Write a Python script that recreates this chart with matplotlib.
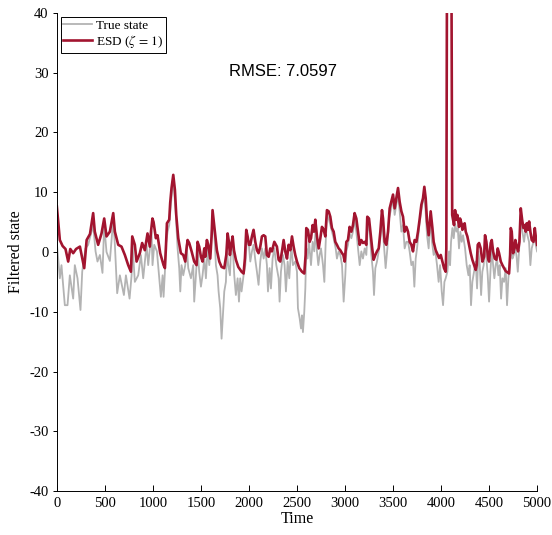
import matplotlib
matplotlib.use("Agg")
import matplotlib.pyplot as plt

plt.rcParams['font.family'] = ['Liberation Serif', 'DejaVu Serif']
plt.rcParams['mathtext.fontset'] = 'stix'

# True state (time, value)
true_t = [0, 31, 48, 83, 111, 135, 170, 187, 215, 246, 264, 298, 326, 361, 378, 403, 423, 448,
          475, 493, 517, 552, 587, 604, 628, 656, 698, 719, 757, 778, 788, 812, 847, 875, 899,
          934, 951, 986, 996, 1014, 1042, 1066, 1083, 1101, 1111, 1125, 1135, 1153, 1170, 1187,
          1208, 1222, 1239, 1257, 1274, 1285, 1298, 1316, 1337, 1351, 1368, 1396, 1420, 1430,
          1448, 1465, 1482, 1500, 1517, 1535, 1552, 1569, 1587, 1604, 1621, 1639, 1656, 1673,
          1684, 1701, 1715, 1729, 1743, 1760, 1771, 1785, 1802, 1812, 1830, 1847, 1864, 1882,
          1896, 1909, 1923, 1944, 1962, 1979, 1996, 2014, 2031, 2048, 2066, 2083, 2100, 2118,
          2135, 2153, 2170, 2187, 2198, 2215, 2229, 2246, 2264, 2285, 2309, 2319, 2333, 2354,
          2371, 2385, 2403, 2420, 2441, 2458, 2482, 2500, 2510, 2528, 2542, 2552, 2562, 2576,
          2587, 2597, 2611, 2625, 2646, 2663, 2680, 2694, 2708, 2722, 2736, 2750, 2771, 2785,
          2798, 2812, 2830, 2847, 2864, 2882, 2903, 2916, 2934, 2951, 2969, 2986, 3003, 3014,
          3031, 3048, 3066, 3083, 3100, 3118, 3135, 3153, 3170, 3187, 3205, 3222, 3239, 3257,
          3274, 3291, 3302, 3316, 3333, 3351, 3368, 3385, 3403, 3423, 3441, 3458, 3482, 3500,
          3517, 3535, 3552, 3569, 3587, 3604, 3621, 3639, 3656, 3673, 3691, 3708, 3722, 3736,
          3750, 3771, 3788, 3805, 3823, 3837, 3854, 3871, 3889, 3906, 3923, 3941, 3958, 3975,
          3990, 4007, 4021, 4035, 4048, 4066, 4083, 4094, 4104, 4118, 4132, 4146, 4160, 4174,
          4187, 4201, 4215, 4229, 4250, 4267, 4285, 4298, 4312, 4326, 4344, 4361, 4375, 4389,
          4403, 4417, 4430, 4444, 4458, 4472, 4486, 4500, 4514, 4528, 4542, 4555, 4569, 4583,
          4597, 4611, 4625, 4639, 4656, 4673, 4687, 4701, 4715, 4729, 4743, 4757, 4771, 4785,
          4799, 4812, 4830, 4847, 4864, 4882, 4899, 4916, 4930, 4944, 4962, 4976, 4986, 5000]
true_v = [1.5, -4.4, -2.2, -8.9, -8.9, -3.9, -7.8, -2.2, -4.4, -9.7, -3.3, 0.6, 1.2, 3.4, 4.5, 0.1, -1.6, -0.5,
          -3.5, 4.5, 0.0, -1.5, 5.5, 1.2, -6.9, -3.9, -7.2, -3.9, -7.8, -3.9, 1.2, -5.0, -3.9, -0.5, -4.4,
          1.2, -2.2, 3.4, -2.2, 1.2, 0.1, -4.4, -7.5, -3.9, -7.5, -3.3, 1.2, 3.4, 4.5, 7.9,
          11.8, 10.1, 6.2, 0.6, -2.7, -6.6, -2.2, -3.9, -2.2, 1.2, -2.7, -4.4, -2.2, -8.3,
          -3.9, 0.6, -3.3, -5.8, -3.9, -1.1, -4.4, 0.6, -2.2, 1.7, 5.1, 3.4, -2.2, -3.9,
          -6.6, -9.4, -14.5, -10.6, -6.6, -5.0, 0.1, -2.2, -3.9, 0.1, 1.2, -3.9, -7.2, -4.4,
          -8.3, -4.4, -6.6, -3.9, -2.2, 2.3, 1.7, -1.6, 0.1, 1.2, -1.3, -3.3, -5.5, -1.6,
          0.6, -1.1, 0.6, -2.2, -6.6, -2.7, -6.1, -1.1, 0.6, -2.2, -4.4, -8.3, -3.3, -0.5,
          -2.2, -6.6, -1.6, -4.4, 1.2, -2.2, -1.6, -3.3, -9.4, -11.1, -12.8, -10.6, -13.4, -10.0,
          -6.1, 0.6, -1.1, 1.7, -2.2, 1.7, 0.1, 4.0, 0.1, -2.2, -0.5, 0.6, -2.2, -5.0,
          1.2, 6.2, 5.6, 4.5, 3.4, 2.3, 0.6, -1.1, 0.1, -0.5, -2.2, -8.3, -3.9, 0.1,
          1.2, 3.1, 2.3, 3.4, 5.4, 3.4, 0.6, -2.2, 0.1, -1.1, 0.6, -0.5, 4.8, 3.4,
          -0.5, -3.3, -7.2, -2.7, -1.6, 0.1, 2.3, 5.6, 1.7, -2.7, 0.6, 5.6, 7.3, 9.0,
          6.2, 7.9, 9.6, 6.8, 3.4, 4.5, 0.6, 1.7, 1.7, 0.1, -2.2, -1.6, -5.8, -1.1,
          0.6, 4.0, 6.2, 7.9, 9.8, 7.3, 2.8, 0.6, 5.6, 1.7, -0.5, 0.1, -2.2, -5.0,
          -2.2, -6.6, -8.9, -5.0, -4.4, -3.3, 0.1, -2.2, 1.7, 4.0, 2.3, 4.8, 3.4, 4.0,
          0.6, 3.4, 1.7, 2.8, 0.6, -2.2, -3.9, -2.2, -8.9, -5.0, -3.3, -1.6, -6.1, 0.1,
          -2.2, -7.2, -3.3, -2.2, 1.7, -1.1, -3.9, -8.3, -3.3, 0.6, -2.2, -4.4, -2.2, -1.1,
          -3.9, -2.2, -7.8, -4.4, -5.0, -2.7, -8.9, -4.4, -2.2, 1.7, -1.1, -0.5, 0.6, -0.5,
          -3.3, 0.1, 6.2, 3.4, 1.7, 4.0, 2.8, 1.7, -2.2, 0.6, 1.7, 2.3, 1.2, 0.1]

# ESD filter estimate (time, value)
esd_t = [0, 31, 60, 90, 118, 140, 170, 200, 240, 285, 310, 345, 378, 395, 430, 465, 493, 517,
         552, 587, 604, 639, 673, 708, 743, 771, 785, 812, 830, 864, 888, 916, 944, 968, 980,
         995, 1007, 1031, 1048, 1076, 1111, 1125, 1135, 1146, 1170, 1180, 1194, 1212, 1229,
         1243, 1264, 1291, 1316, 1337, 1347, 1361, 1378, 1403, 1430, 1455, 1465, 1482, 1500,
         1517, 1535, 1545, 1562, 1576, 1597, 1611, 1621, 1632, 1649, 1666, 1691, 1715, 1743,
         1764, 1778, 1791, 1802, 1816, 1830, 1844, 1864, 1889, 1923, 1944, 1958, 1972, 1986,
         2000, 2014, 2031, 2048, 2066, 2083, 2100, 2118, 2135, 2153, 2170, 2187, 2205, 2222,
         2239, 2264, 2291, 2309, 2326, 2344, 2361, 2378, 2396, 2413, 2430, 2448, 2465, 2482,
         2500, 2524, 2552, 2576, 2590, 2597, 2614, 2632, 2646, 2663, 2677, 2691, 2708, 2726,
         2743, 2760, 2778, 2795, 2812, 2830, 2847, 2864, 2882, 2899, 2916, 2934, 2951, 2969,
         2983, 2997, 3014, 3031, 3048, 3066, 3083, 3100, 3118, 3135, 3153, 3170, 3187, 3205,
         3222, 3232, 3250, 3264, 3281, 3298, 3316, 3333, 3351, 3368, 3385, 3396, 3413, 3430,
         3448, 3465, 3482, 3500, 3517, 3535, 3552, 3569, 3587, 3604, 3621, 3639, 3656, 3673,
         3691, 3708, 3725, 3743, 3760, 3778, 3795, 3812, 3826, 3840, 3854, 3871, 3892, 3910,
         3923, 3944, 3958, 3979, 3997, 4014, 4031, 4048, 4055, 4062, 4108, 4116, 4135, 4146,
         4160, 4170, 4187, 4198, 4212, 4222, 4232, 4246, 4257, 4274, 4292, 4309, 4326, 4344,
         4361, 4371, 4382, 4396, 4413, 4430, 4448, 4458, 4472, 4490, 4500, 4517, 4528, 4542,
         4559, 4576, 4590, 4604, 4622, 4639, 4656, 4673, 4691, 4708, 4719, 4726, 4736, 4750,
         4764, 4774, 4788, 4802, 4816, 4830, 4844, 4858, 4871, 4882, 4892, 4906, 4917, 4930,
         4944, 4962, 4976, 4986, 5000]
esd_v = [7.6, 2.0, 1.0, 0.5, -1.6, 0.5, -0.2, 0.5, 0.9, -2.7, 2.0, 3.0, 6.5, 3.4, 1.2, 3.1, 5.6, 2.6,
         3.4, 6.5, 3.4, 1.2, 0.9, -0.5, -2.2, -3.3, 2.6, 1.2, -1.6, -0.2, 1.5, 0.3, 3.1, 0.9, 3.4,
         5.6, 5.0, 2.3, 2.8, -0.2, -2.2, -2.7, 0.6, 4.8, 5.4, 8.2, 10.7, 12.9, 10.4,
         6.2, 2.3, -0.2, -0.5, -1.6, 0.1, 2.0, 1.5, 0.1, -1.6, -2.2, 1.7, 0.9, -0.8,
         -1.6, 0.6, -0.8, 2.0, 1.2, -1.1, 2.6, 7.0, 5.4, 2.8, 0.3, -1.6, -2.5, -2.7,
         -0.5, 3.1, 1.7, -0.5, 1.2, 2.6, 0.3, -1.3, -2.5, -3.3, -3.6, -1.1, 3.7, 2.6,
         1.2, 1.2, 2.6, 3.7, 1.7, 0.3, -0.2, 0.9, 2.6, 2.8, 2.6, -0.5, -0.8, 0.6,
         0.1, 1.7, 0.9, -1.3, -1.6, 0.1, 2.0, 0.1, -1.1, 1.2, 0.3, 2.6, 0.9, -0.5,
         -1.6, -2.7, -3.3, -3.6, -0.5, 4.0, 3.7, 1.7, 2.3, 4.5, 3.4, 5.4, 2.6, 0.6,
         2.3, 4.2, 3.7, 2.6, 7.0, 6.8, 5.9, 4.0, 3.4, 1.7, 1.2, 0.6, 0.3, -0.2,
         -0.5, -1.6, 1.7, 2.0, 4.2, 3.4, 4.5, 6.5, 5.6, 3.4, 1.2, 2.0, 1.5, 1.7,
         1.2, 5.9, 5.6, 3.4, 0.9, -1.3, -0.5, 0.1, 0.6, 3.4, 7.0, 5.6, 1.7, 1.2,
         3.4, 7.3, 8.4, 9.6, 7.3, 9.0, 10.7, 8.4, 6.8, 5.9, 3.4, 4.2, 3.4, 1.7,
         1.2, 0.1, 2.0, 1.7, 3.4, 5.6, 7.9, 9.0, 10.9, 9.0, 5.1, 2.8, 6.8, 4.0,
         1.7, 0.3, -0.2, -1.0, -0.5, -1.6, -2.7, -3.3, 0.6, 48.0, 48.0, 6.2, 4.5, 7.0,
         5.4, 6.2, 4.2, 5.6, 4.8, 3.7, 4.5, 4.8, 3.4, 2.6, 1.2, -0.2, -1.3, -2.2,
         -3.0, -2.2, 1.2, 1.5, 0.6, -1.6, -0.8, 2.8, 1.7, -1.1, -1.6, 1.5, 2.0, 0.1,
         -1.1, -1.3, 0.6, -0.2, -1.6, -2.2, -2.7, -3.2, -3.4, -3.6, -0.5, 4.0, 3.4, -0.2,
         0.6, 2.0, 0.9, 0.1, 1.7, 7.3, 5.4, 4.0, 4.5, 3.4, 4.8, 3.7, 5.1, 3.4,
         2.0, 1.7, 4.0, 2.6, 1.2]

x_ticks = [0, 500, 1000, 1500, 2000, 2500, 3000, 3500, 4000, 4500, 5000]
y_ticks = [-40, -30, -20, -10, 0, 10, 20, 30, 40]
rmse_text = "RMSE: 7.0597"

fig = plt.figure(figsize=(5.52, 5.35), dpi=100)
ax = fig.add_axes([0.103, 0.082, 0.870, 0.894])

ax.plot(true_t, true_v, color='#b3b3b3', lw=1.3, label='True state')
ax.plot(esd_t, esd_v, color='#a2142f', lw=1.9, label=r'ESD ($\zeta\,=\,1$)')

ax.set_xlim(0, 5000)
ax.set_ylim(-40, 40)
ax.set_xticks(x_ticks)
ax.set_yticks(y_ticks)
ax.set_xticklabels([str(v) for v in x_ticks])
ax.set_yticklabels([str(v) for v in y_ticks])
ax.tick_params(axis='x', direction='in', length=4, width=0.7, labelsize=10.5, pad=4)
ax.tick_params(axis='y', direction='out', length=3, width=0.7, labelsize=10.5, pad=3)
for s in ['top', 'right']:
    ax.spines[s].set_visible(False)
for s in ['left', 'bottom']:
    ax.spines[s].set_linewidth(0.7)

ax.set_xlabel('Time', fontsize=11.5, labelpad=1)
ax.set_ylabel('Filtered state', fontsize=11.5, labelpad=4)

ax.text(2354, 30.2, rmse_text, family=['Liberation Sans', 'DejaVu Sans'], fontsize=12,
        ha='center', va='center')

leg = ax.legend(loc='upper left', fontsize=9.5, frameon=True, fancybox=False,
                edgecolor='black', framealpha=1, handlelength=2.2, handletextpad=0.3,
                borderpad=0.2, labelspacing=0.1, borderaxespad=0.3)
leg.get_frame().set_linewidth(0.7)

fig.savefig('out.png', dpi=100)
